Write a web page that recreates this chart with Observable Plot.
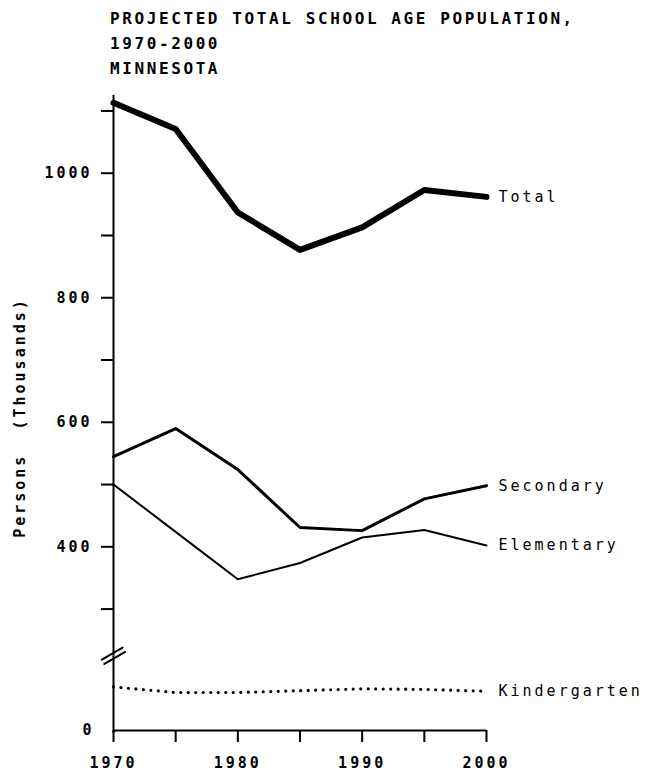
<!DOCTYPE html>
<html>
<head>
<meta charset="utf-8">
<script src="https://cdn.jsdelivr.net/npm/d3@7"></script>
<script src="https://cdn.jsdelivr.net/npm/@observablehq/plot@0.6"></script>
<style>
  body { margin: 0; background: #fff; }
  #wrap { position: relative; width: 646px; height: 774px; }
  #title {
    position: absolute; left: 110px; top: 6px;
    font-family: "DejaVu Sans Mono", monospace; font-size: 16px; line-height: 25px;
    letter-spacing: 2.6px; font-weight: bold; color: #000; white-space: pre;
  }
</style>
</head>
<body>
<div id="wrap"><div id="title"></div></div>
<script>
const titleLines = ["PROJECTED TOTAL SCHOOL AGE POPULATION,", "1970-2000", "MINNESOTA"];

const years        = [1970, 1975, 1980, 1985, 1990, 1995, 2000];
const total        = [1113, 1071, 937, 877, 913, 973, 962];
const secondary    = [545, 590, 524, 431, 426, 477, 498];
const elementary   = [500, 424, 348, 374, 415, 427, 402];
const kindergarten = [70, 61, 61, 64, 67, 66, 63];

const seriesNames = ["Total", "Secondary", "Elementary", "Kindergarten"];
const xTicks  = [1970, 1975, 1980, 1985, 1990, 1995, 2000];
const xLabels = [1970, 1980, 1990, 2000];
const yTicks  = [300, 400, 500, 600, 700, 800, 900, 1000, 1100];
const yLabels = [400, 600, 800, 1000];
const yZero   = [0];
const yTop    = 1120;
const axisBreak = [120, 225];   // values omitted by the broken axis
const yLabel = "Persons  (Thousands)";

document.getElementById("title").textContent = titleLines.join("\n");

const gap = axisBreak[1] - axisBreak[0];
const brk = v => v <= axisBreak[0] ? v : v >= axisBreak[1] ? v - gap : axisBreak[0];

const seriesValues = [total, secondary, elementary, kindergarten];
const endLabels = seriesNames.map((name, i) => ({name, year: years[years.length - 1], value: seriesValues[i][years.length - 1]}));
const breakMark = [{year: years[0], value: (axisBreak[0] + axisBreak[1]) / 2}];

const font = "DejaVu Sans Mono";
const lineOpts = {stroke: "black", strokeLinejoin: "round", strokeLinecap: "round"};

const chart = Plot.plot({
  width: 646,
  height: 774,
  marginLeft: 113,
  marginRight: 160,
  marginTop: 98,
  marginBottom: 44,
  style: {fontFamily: font, fontSize: "15px", letterSpacing: "3px", background: "white", color: "black"},
  x: {domain: [1970, 2000]},
  y: {transform: brk, domain: [0, brk(yTop)], range: [730, 98]},
  marks: [
    Plot.ruleX([years[0]], {y1: 0, y2: axisBreak[0], insetTop: 3, stroke: "black", strokeWidth: 2}),
    Plot.ruleX([years[0]], {y1: axisBreak[1], y2: yTop, insetBottom: 3, stroke: "black", strokeWidth: 2}),
    Plot.ruleY([0], {x1: years[0], x2: years[years.length - 1], stroke: "black", strokeWidth: 2}),
    Plot.vector(breakMark, {
      x: "year", y: "value", length: 24, rotate: 60, anchor: "middle",
      stroke: "black", strokeWidth: 2,
      shape: {draw(ctx, l) { ctx.moveTo(-2.5, 0); ctx.lineTo(-2.5, -l); ctx.moveTo(2.5, 0); ctx.lineTo(2.5, -l); }}
    }),
    Plot.axisX(xTicks, {tickSize: 12, tickPadding: 15, strokeWidth: 2, fontWeight: "bold", label: null,
      tickFormat: d => xLabels.includes(d) ? String(d) : ""}),
    Plot.axisY(yTicks, {tickSize: 12, tickPadding: 9, strokeWidth: 2, fontWeight: "bold", label: null,
      tickFormat: d => yLabels.includes(d) ? String(d) : ""}),
    Plot.axisY(yZero, {tickSize: 0, tickPadding: 19, fontWeight: "bold", label: null}),
    Plot.text([yLabel], {frameAnchor: "left", dx: -93, dy: 3, rotate: -90, textAnchor: "middle", fontWeight: "bold", fontSize: 15}),
    Plot.line(years, {x: years, y: kindergarten, ...lineOpts, strokeWidth: 3.2, strokeDasharray: "0 7.5"}),
    Plot.line(years, {x: years, y: elementary, ...lineOpts, strokeWidth: 2}),
    Plot.line(years, {x: years, y: secondary, ...lineOpts, strokeWidth: 3}),
    Plot.line(years, {x: years, y: total, ...lineOpts, strokeWidth: 6}),
    Plot.text(endLabels, {x: "year", y: "value", text: "name", dx: 12, textAnchor: "start", fontSize: 15})
  ]
});
document.getElementById("wrap").prepend(chart);
</script>
</body>
</html>
